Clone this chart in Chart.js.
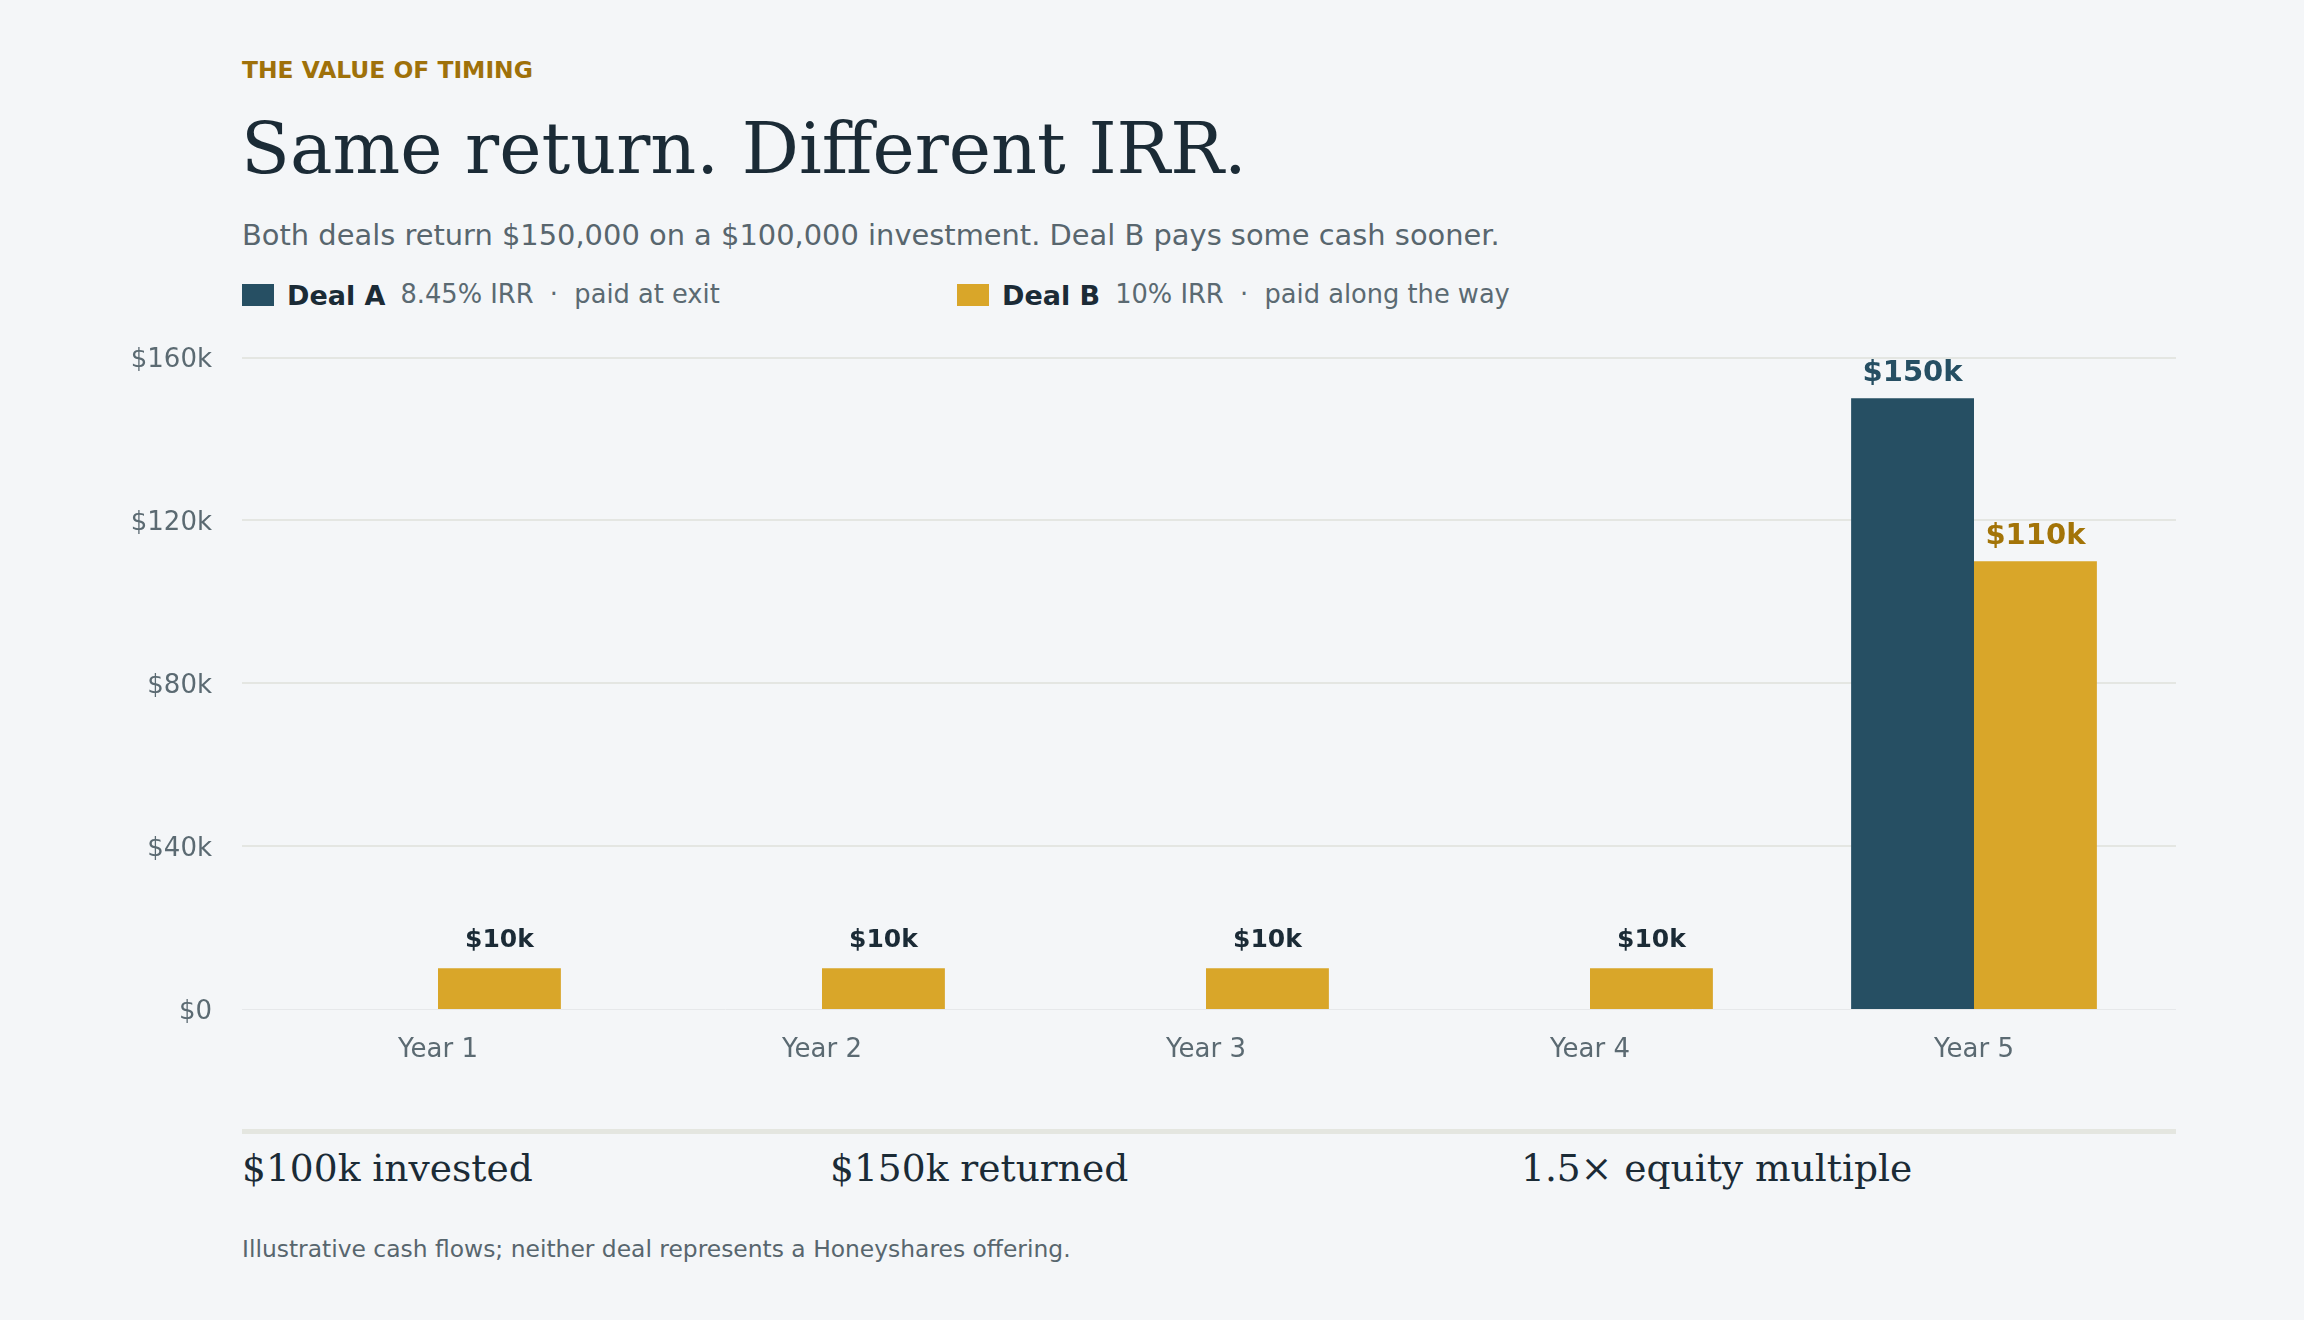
<!DOCTYPE html>
<html>
<head>
<meta charset="utf-8">
<script src="https://cdn.jsdelivr.net/npm/chart.js@4.4.1/dist/chart.umd.min.js"></script>
<style>
  html, body { margin: 0; padding: 0; background: #f4f6f8; }
  body { width: 2304px; height: 1320px; position: relative; overflow: hidden; font-family: 'DejaVu Sans', sans-serif; }
  .t { position: absolute; white-space: nowrap; line-height: 1; }
  .eyebrow { left: 242px; top: 59px; font-size: 23.4px; font-weight: bold; color: #9f710a; }
  .title { left: 241px; top: 113px; font-size: 71.4px; font-family: 'DejaVu Serif', serif; color: #1b2b36; }
  .sub { left: 242px; top: 221px; font-size: 28.9px; color: #58666e; }
  .legend { top: 284px; height: 22px; display: flex; align-items: center; }
  .sw { width: 32px; height: 22px; margin-right: 13px; }
  .legend b { font-size: 27px; color: #1b2b36; }
  .legend span { font-size: 25.7px; color: #5b6a72; margin-left: 15px; }
  #wrap { position: absolute; left: 100px; top: 308px; width: 2100px; height: 782px; }
  .rule { position: absolute; left: 242px; top: 1129px; width: 1934px; height: 5px; background: #e4e6e0; }
  .stat { top: 1150px; font-size: 37.6px; font-family: 'DejaVu Serif', serif; color: #1b2b36; }
  .foot { left: 242px; top: 1238px; font-size: 23.4px; color: #58666e; }
</style>
</head>
<body>
<div class="t eyebrow">THE VALUE OF TIMING</div>
<div class="t title">Same return. Different IRR.</div>
<div class="t sub">Both deals return $150,000 on a $100,000 investment. Deal B pays some cash sooner.</div>
<div class="t legend" style="left:242px"><div class="sw" style="background:#264f63"></div><b>Deal A</b><span>8.45% IRR &nbsp;·&nbsp; paid at exit</span></div>
<div class="t legend" style="left:957px"><div class="sw" style="background:#d9a629"></div><b>Deal B</b><span>10% IRR &nbsp;·&nbsp; paid along the way</span></div>
<div id="wrap"><canvas id="c"></canvas></div>
<div class="rule"></div>
<div class="t stat" style="left:242px">$100k invested</div>
<div class="t stat" style="left:830px">$150k returned</div>
<div class="t stat" style="left:1521px">1.5× equity multiple</div>
<div class="t foot">Illustrative cash flows; neither deal represents a Honeyshares offering.</div>
<script>
const years = ['Year 1', 'Year 2', 'Year 3', 'Year 4', 'Year 5'];
const dealA = [0, 0, 0, 0, 150000];
const dealB = [10000, 10000, 10000, 10000, 110000];
const yTicks = [0, 40000, 80000, 120000, 160000];

const COL = { a: '#264f63', b: '#d9a629', ink: '#1b2b36', gold: '#a37408', tick: '#5b6a72', grid: '#e4e6e2' };
const money = v => v === 0 ? '$0' : '$' + Math.round(v / 1000) + 'k';

// horizontal rules drawn a little wider than the plot area, behind the bars
const wideGrid = {
  id: 'wideGrid',
  beforeDatasetsDraw(chart) {
    const { ctx, chartArea: { left, right }, scales: { y } } = chart;
    ctx.save();
    y.ticks.forEach(t => {
      const py = Math.round(y.getPixelForValue(t.value));
      const zero = t.value === 0;
      ctx.strokeStyle = zero ? '#e6e8ea' : COL.grid;
      ctx.lineWidth = zero ? 1 : 2;
      ctx.beginPath();
      ctx.moveTo(left - 4, zero ? py + 0.5 : py);
      ctx.lineTo(right + 10, zero ? py + 0.5 : py);
      ctx.stroke();
    });
    ctx.restore();
  },
};

// value labels above each non-zero bar; the final-year labels take the series colour
const barLabels = {
  id: 'barLabels',
  afterDatasetsDraw(chart) {
    const { ctx } = chart;
    ctx.save();
    ctx.textAlign = 'center';
    ctx.textBaseline = 'alphabetic';
    chart.data.datasets.forEach((ds, di) => {
      chart.getDatasetMeta(di).data.forEach((bar, i) => {
        const v = ds.data[i];
        if (!v) return;
        const last = i === ds.data.length - 1;
        ctx.font = 'bold ' + (last ? 29 : 25) + 'px "DejaVu Sans"';
        ctx.fillStyle = last ? ds.labelColor : COL.ink;
        ctx.fillText(money(v), bar.x, bar.y - (last ? 17 : 21));
      });
    });
    ctx.restore();
  },
};

new Chart(document.getElementById('c'), {
  type: 'bar',
  data: {
    labels: years,
    datasets: [
      { label: 'Deal A', data: dealA, backgroundColor: COL.a, labelColor: COL.a },
      { label: 'Deal B', data: dealB, backgroundColor: COL.b, labelColor: COL.gold },
    ],
  },
  options: {
    responsive: true, maintainAspectRatio: false, animation: false,
    devicePixelRatio: 1,
    categoryPercentage: 0.64, barPercentage: 1,
    layout: { padding: { top: 8, right: 34, bottom: 21, left: 0 } },
    plugins: { legend: { display: false }, tooltip: { enabled: false } },
    scales: {
      x: {
        afterFit: s => { s.height = 60; },
        grid: { display: false, drawTicks: false }, border: { display: false },
        ticks: { color: COL.tick, font: { family: 'DejaVu Sans', size: 26 }, padding: 26 },
      },
      y: {
        min: 0, max: 160000,
        afterBuildTicks: s => { s.ticks = yTicks.map(v => ({ value: v })); },
        afterFit: s => { s.width = 146; },
        border: { display: false },
        grid: { display: false, drawTicks: false },
        ticks: { color: COL.tick, font: { family: 'DejaVu Sans', size: 26 }, padding: 34, labelOffset: 3, callback: money },
      },
    },
  },
  plugins: [wideGrid, barLabels],
});
</script>
</body>
</html>
